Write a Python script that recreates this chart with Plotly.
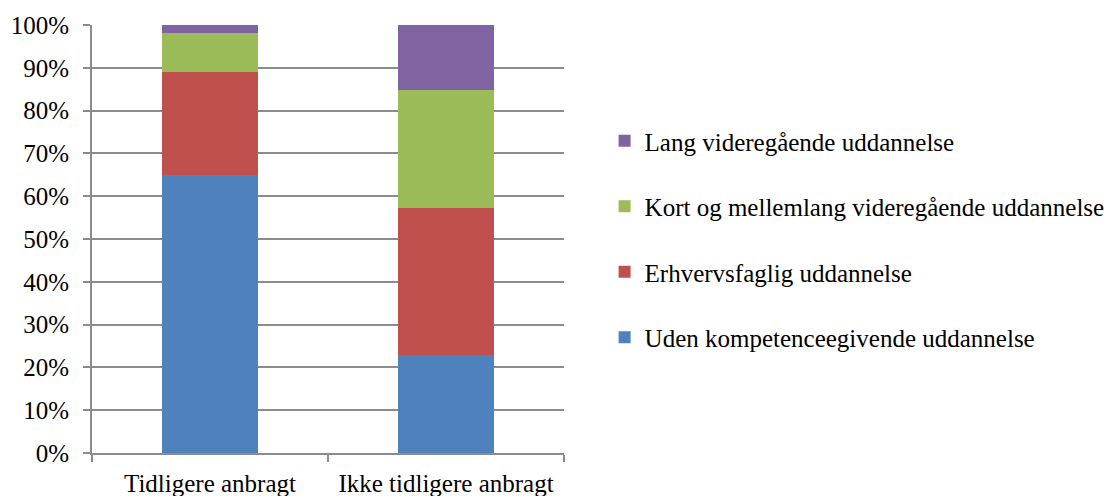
import plotly.graph_objects as go

categories = ["Tidligere anbragt", "Ikke tidligere anbragt"]
series_names = [
    "Uden kompetenceegivende uddannelse",
    "Erhvervsfaglig uddannelse",
    "Kort og mellemlang videregående uddannelse",
    "Lang videregående uddannelse",
]
uden = [0.650, 0.230]
erhverv = [0.240, 0.343]
kort = [0.092, 0.274]
lang = [0.018, 0.153]
colors = ["#4F81BD", "#C0504D", "#9BBB59", "#8064A2"]

series_values = [uden, erhverv, kort, lang]

fig = go.Figure()
for i, (name, vals) in enumerate(zip(series_names, series_values)):
    fig.add_trace(go.Bar(
        x=categories, y=vals, name=name,
        marker=dict(color=colors[i], line=dict(width=0)),
        legendgroup=f"g{i}",
        legendrank=100 - i,
    ))

font_family = "Liberation Serif, Times New Roman, serif"
grid_color = "#8c8c8c"

fig.update_layout(
    barmode="stack",
    bargap=0.597,
    width=1118, height=496,
    margin=dict(l=92, r=554, t=25, b=43, autoexpand=False),
    paper_bgcolor="white", plot_bgcolor="white",
    font=dict(family=font_family, size=25, color="black"),
    showlegend=True,
    legend=dict(
        x=1.086, xanchor="left", y=0.5, yanchor="middle",
        traceorder="grouped", tracegroupgap=30,
        font=dict(family=font_family, size=25, color="black"),
        bgcolor="rgba(0,0,0,0)",
    ),
    xaxis=dict(
        automargin=False,
        showline=True, linecolor=grid_color, linewidth=2,
        ticks="outside", tickson="boundaries", ticklen=7, tickwidth=2, tickcolor=grid_color,
        showgrid=False,
        ticklabelstandoff=7,
        tickfont=dict(family=font_family, size=25, color="black"),
    ),
    yaxis=dict(
        automargin=False,
        range=[0, 1], dtick=0.1, tickformat=".0%",
        showline=True, linecolor=grid_color, linewidth=2,
        ticks="outside", ticklen=7, tickwidth=2, tickcolor=grid_color,
        showgrid=True, gridcolor=grid_color, gridwidth=2,
        zeroline=False,
        ticklabelstandoff=9,
        tickfont=dict(family=font_family, size=25, color="black"),
    ),
)

fig.write_html(
    "out.html",
    config={"displayModeBar": False},
    post_script="document.body.style.margin='0';document.body.style.overflow='hidden';",
)
